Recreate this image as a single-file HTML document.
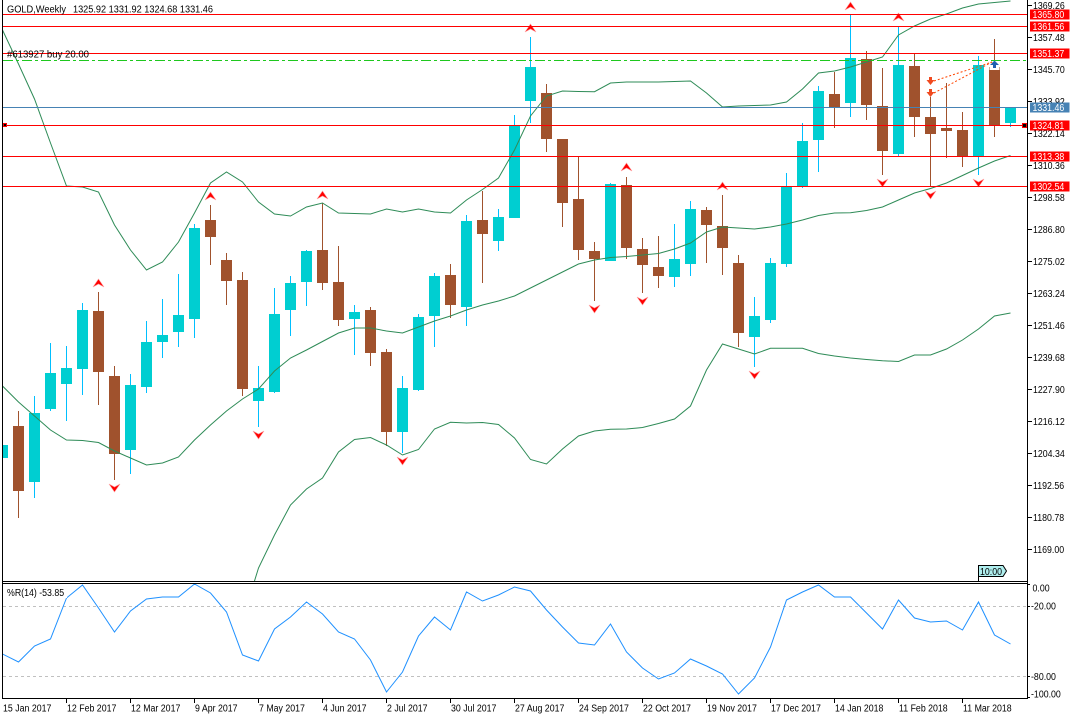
<!DOCTYPE html>
<html><head><meta charset="utf-8"><style>
html,body{margin:0;padding:0;background:#fff;}
svg{display:block;}
text{font-family:"Liberation Sans",Arial,sans-serif;font-size:10px;fill:#000;}
</style></head><body>
<svg width="1080" height="720" viewBox="0 0 1080 720" xmlns="http://www.w3.org/2000/svg">
<defs>
<clipPath id="cm"><rect x="3" y="0" width="1024" height="581"/></clipPath>
<clipPath id="ci"><rect x="3" y="584" width="1024" height="114"/></clipPath>
</defs>
<rect width="1080" height="720" fill="#fff"/>

<g clip-path="url(#cm)">
<!-- bull wicks -->
<g fill="#00BFFF">
<rect x="34" y="396" width="1" height="102"/><rect x="50" y="343" width="1" height="68"/><rect x="66" y="346" width="1" height="75"/><rect x="82" y="303" width="1" height="92"/><rect x="130" y="374" width="1" height="100"/><rect x="146" y="321" width="1" height="72"/><rect x="162" y="299" width="1" height="59"/><rect x="178" y="274" width="1" height="73"/><rect x="194" y="224" width="1" height="114"/><rect x="258" y="366" width="1" height="61"/><rect x="274" y="288" width="1" height="105"/><rect x="290" y="276" width="1" height="60"/><rect x="306" y="250" width="1" height="56"/><rect x="354" y="305" width="1" height="50"/><rect x="402" y="376" width="1" height="77"/><rect x="418" y="314" width="1" height="77"/><rect x="434" y="273" width="1" height="74"/><rect x="466" y="215" width="1" height="111"/><rect x="498" y="209" width="1" height="42"/><rect x="514" y="115" width="1" height="103"/><rect x="530" y="37" width="1" height="86"/><rect x="610" y="183" width="1" height="78"/><rect x="674" y="224" width="1" height="63"/><rect x="690" y="201" width="1" height="75"/><rect x="754" y="297" width="1" height="70"/><rect x="770" y="258" width="1" height="65"/><rect x="786" y="173" width="1" height="94"/><rect x="802" y="123" width="1" height="65"/><rect x="818" y="86" width="1" height="86"/><rect x="850" y="15" width="1" height="102"/><rect x="898" y="27" width="1" height="129"/><rect x="978" y="56" width="1" height="119"/><rect x="1010" y="107" width="1" height="20"/>
</g>
<!-- bull bodies -->
<g fill="#00CED1">
<rect x="-3" y="445" width="11" height="13"/><rect x="29" y="413" width="11" height="69"/><rect x="45" y="373" width="11" height="36"/><rect x="61" y="368" width="11" height="16"/><rect x="77" y="310" width="11" height="59"/><rect x="125" y="385" width="11" height="65"/><rect x="141" y="342" width="11" height="45"/><rect x="157" y="335" width="11" height="7"/><rect x="173" y="315" width="11" height="17"/><rect x="189" y="228" width="11" height="91"/><rect x="253" y="388" width="11" height="13"/><rect x="269" y="314" width="11" height="78"/><rect x="285" y="283" width="11" height="27"/><rect x="301" y="251" width="11" height="31"/><rect x="349" y="312" width="11" height="7"/><rect x="397" y="388" width="11" height="44"/><rect x="413" y="317" width="11" height="73"/><rect x="429" y="276" width="11" height="40"/><rect x="461" y="221" width="11" height="86"/><rect x="493" y="217" width="11" height="24"/><rect x="509" y="126" width="11" height="92"/><rect x="525" y="67" width="11" height="34"/><rect x="605" y="184" width="11" height="77"/><rect x="669" y="259" width="11" height="18"/><rect x="685" y="209" width="11" height="55"/><rect x="749" y="316" width="11" height="21"/><rect x="765" y="263" width="11" height="57"/><rect x="781" y="187" width="11" height="77"/><rect x="797" y="141" width="11" height="45"/><rect x="813" y="91" width="11" height="49"/><rect x="845" y="58" width="11" height="45"/><rect x="893" y="65" width="11" height="89"/><rect x="973" y="65" width="11" height="92"/><rect x="1005" y="107" width="11" height="16"/>
</g>
<!-- bear candles -->
<g fill="#A0522D">
<rect x="18" y="411" width="1" height="107"/><rect x="13" y="426" width="11" height="65"/>
<rect x="98" y="292" width="1" height="113"/><rect x="93" y="311" width="11" height="61"/>
<rect x="114" y="366" width="1" height="114"/><rect x="109" y="376" width="11" height="78"/>
<rect x="210" y="205" width="1" height="60"/><rect x="205" y="220" width="11" height="17"/>
<rect x="226" y="253" width="1" height="52"/><rect x="221" y="260" width="11" height="21"/>
<rect x="242" y="272" width="1" height="124"/><rect x="237" y="280" width="11" height="109"/>
<rect x="322" y="203" width="1" height="87"/><rect x="317" y="250" width="11" height="33"/>
<rect x="338" y="246" width="1" height="80"/><rect x="333" y="282" width="11" height="38"/>
<rect x="370" y="307" width="1" height="59"/><rect x="365" y="310" width="11" height="43"/>
<rect x="386" y="349" width="1" height="97"/><rect x="381" y="352" width="11" height="80"/>
<rect x="450" y="264" width="1" height="54"/><rect x="445" y="275" width="11" height="30"/>
<rect x="482" y="191" width="1" height="92"/><rect x="477" y="220" width="11" height="14"/>
<rect x="546" y="84" width="1" height="68"/><rect x="541" y="93" width="11" height="46"/>
<rect x="562" y="139" width="1" height="88"/><rect x="557" y="139" width="11" height="64"/>
<rect x="578" y="156" width="1" height="104"/><rect x="573" y="199" width="11" height="51"/>
<rect x="594" y="242" width="1" height="59"/><rect x="589" y="251" width="11" height="8"/>
<rect x="626" y="177" width="1" height="82"/><rect x="621" y="185" width="11" height="63"/>
<rect x="642" y="238" width="1" height="55"/><rect x="637" y="249" width="11" height="16"/>
<rect x="658" y="236" width="1" height="52"/><rect x="653" y="267" width="11" height="9"/>
<rect x="706" y="207" width="1" height="56"/><rect x="701" y="210" width="11" height="15"/>
<rect x="722" y="195" width="1" height="80"/><rect x="717" y="226" width="11" height="22"/>
<rect x="738" y="255" width="1" height="92"/><rect x="733" y="263" width="11" height="70"/>
<rect x="834" y="72" width="1" height="56"/><rect x="829" y="94" width="11" height="14"/>
<rect x="866" y="51" width="1" height="69"/><rect x="861" y="59" width="11" height="46"/>
<rect x="882" y="68" width="1" height="107"/><rect x="877" y="106" width="11" height="45"/>
<rect x="914" y="53" width="1" height="84"/><rect x="909" y="66" width="11" height="51"/>
<rect x="930" y="97" width="1" height="89"/><rect x="925" y="117" width="11" height="17"/>
<rect x="946" y="83" width="1" height="75"/><rect x="941" y="128" width="11" height="3"/>
<rect x="962" y="112" width="1" height="55"/><rect x="957" y="130" width="11" height="26"/>
<rect x="994" y="39" width="1" height="98"/><rect x="989" y="67" width="11" height="58"/>
</g>

<!-- Bollinger bands -->
<g fill="none" stroke="#2E8B57" stroke-width="1">
<polyline points="2.5,30 18.5,64 34.5,99 50.5,143 66.5,186 82.5,187 98.5,192 114.5,225 130.5,250 146.5,270 162.5,262 178.5,242 194.5,213 210.5,183 226.5,172 242.5,182 258.5,202 274.5,214 290.5,216 306.5,207 322.5,203 338.5,213 354.5,213.5 370.5,214 386.5,209 402.5,212 418.5,209 434.5,212 450.5,213 466.5,200 482.5,189.5 498.5,178 514.5,150 530.5,116 546.5,96 562.5,91 578.5,91.5 594.5,91.7 610.5,83 626.5,82 642.5,82 658.5,82 674.5,81.5 690.5,81 706.5,93 722.5,107 738.5,106 754.5,105.5 770.5,105 786.5,102 802.5,89 818.5,73 834.5,71 850.5,67 866.5,62 882.5,57 898.5,35 914.5,26 930.5,19 946.5,14 962.5,8 978.5,4 994.5,2.5 1010.5,1"/>
<polyline points="2.5,386 18.5,402 34.5,416 50.5,430 66.5,440 82.5,440.5 98.5,442.5 114.5,451 130.5,458 146.5,465 162.5,463 178.5,457 194.5,440 210.5,425 226.5,411 242.5,399 258.5,389 274.5,371 290.5,358 306.5,350 322.5,341.5 338.5,333 354.5,328 370.5,328 386.5,331 402.5,333 418.5,327 434.5,321 450.5,316 466.5,310 482.5,305 498.5,301 514.5,296 530.5,288 546.5,280 562.5,272 578.5,264 594.5,260 610.5,257.5 626.5,256.5 642.5,255 658.5,253.5 674.5,249 690.5,243 706.5,232 722.5,227 738.5,228 754.5,229 770.5,227 786.5,224 802.5,220 818.5,215.5 834.5,213 850.5,212.7 866.5,210.5 882.5,207 898.5,200 914.5,193 930.5,188.5 946.5,183 962.5,175.5 978.5,168 994.5,161 1010.5,155.5"/>
<polyline points="242.5,620 258.5,568 274.5,535 290.5,505 306.5,489 322.5,478 338.5,452 354.5,439.5 370.5,437.5 386.5,445 402.5,455 418.5,449.5 434.5,429 450.5,422.3 466.5,423 482.5,422.5 498.5,424.5 514.5,438 530.5,459.5 546.5,464 562.5,449 578.5,436 594.5,431 610.5,429.3 626.5,429 642.5,427.5 658.5,423.5 674.5,419 690.5,406 706.5,370 722.5,344 738.5,349 754.5,354 770.5,348.3 786.5,348.3 802.5,348.3 818.5,353.5 834.5,356 850.5,358 866.5,359.5 882.5,360.7 898.5,361.5 914.5,355 930.5,355 946.5,349 962.5,340 978.5,329 994.5,316 1010.5,313"/>
</g>

<!-- fractals -->
<g fill="#FF0000" stroke="#FF9A9A" stroke-width="0.6">
<polygon points="98.5,279 104,287 98.5,284 93,287"/>
<polygon points="210.5,192 216,200 210.5,197 205,200"/>
<polygon points="322.5,191 328,199 322.5,196 317,199"/>
<polygon points="530.5,24 536,32 530.5,29 525,32"/>
<polygon points="626.5,163 632,171 626.5,168 621,171"/>
<polygon points="722.5,182 728,190 722.5,187 717,190"/>
<polygon points="850.5,2 856,10 850.5,7 845,10"/>
<polygon points="898.5,13 904,21 898.5,18 893,21"/>
<polygon points="109,484 114.5,487 120,484 114.5,492"/>
<polygon points="253,431 258.5,434 264,431 258.5,439"/>
<polygon points="397,457 402.5,460 408,457 402.5,465"/>
<polygon points="589,305 594.5,308 600,305 594.5,313"/>
<polygon points="637,297 642.5,300 648,297 642.5,305"/>
<polygon points="749,371 754.5,374 760,371 754.5,379"/>
<polygon points="877,179 882.5,182 888,179 882.5,187"/>
<polygon points="925,191 930.5,194 936,191 930.5,199"/>
<polygon points="973,179 978.5,182 984,179 978.5,187"/>
</g>

<!-- horizontal lines -->
<g stroke-width="1" fill="none">
<line x1="3" y1="14.5" x2="1027" y2="14.5" stroke="#FF0000"/>
<line x1="3" y1="26.5" x2="1027" y2="26.5" stroke="#FF0000"/>
<line x1="3" y1="53.5" x2="1027" y2="53.5" stroke="#FF0000"/>
<line x1="3" y1="60.5" x2="1027" y2="60.5" stroke="#1EC81E" stroke-dasharray="10,3,3,3"/>
<line x1="3" y1="107.5" x2="1027" y2="107.5" stroke="#4682B4"/>
<line x1="3" y1="125.5" x2="1027" y2="125.5" stroke="#FF0000"/>
<line x1="3" y1="156.5" x2="1027" y2="156.5" stroke="#FF0000"/>
<line x1="3" y1="186.5" x2="1027" y2="186.5" stroke="#FF0000"/>
</g>

<!-- trade markers -->
<g stroke="#FF4500" stroke-width="1" stroke-dasharray="2,2" fill="none">
<line x1="934" y1="81" x2="992" y2="62"/>
<line x1="934" y1="93" x2="992" y2="62"/>
</g>
<g fill="#F04A20">
<rect x="929" y="77" width="3" height="3"/><polygon points="926.5,80 934.5,80 930.5,85"/>
<rect x="929" y="89" width="3" height="3"/><polygon points="926.5,92 934.5,92 930.5,97"/>
</g>
<rect x="989.5" y="66" width="10" height="4" fill="#fff"/>
<polygon points="994.5,60.5 999,65 996,65 996,68 993,68 993,65 990,65" fill="#1F5FB0"/>

<!-- text labels in main -->
<text x="7" y="12.5" textLength="59" lengthAdjust="spacingAndGlyphs">GOLD,Weekly</text>
<text x="73" y="12.5" textLength="140" lengthAdjust="spacingAndGlyphs">1325.92 1331.92 1324.68 1331.46</text>
<text x="7" y="57.5" textLength="82" lengthAdjust="spacingAndGlyphs">#613927 buy 20.00</text>

<!-- small squares -->
<rect x="3.5" y="123.5" width="3" height="3" fill="#000" stroke="#FF0000" stroke-width="1"/>
<rect x="1022.5" y="123.5" width="4" height="4" fill="#000" stroke="#FF0000" stroke-width="1"/>

<!-- timer -->
<line x1="978.5" y1="576" x2="978.5" y2="581" stroke="#000"/>
<polygon points="978.5,565.5 1003,565.5 1006.5,571 1003,576.5 978.5,576.5" fill="#AFEEEE" stroke="#000" stroke-width="1"/>
<text transform="translate(980,575) scale(0.88,1)">10:00</text>
</g>

<!-- indicator -->
<g clip-path="url(#ci)">
<line x1="3" y1="606.5" x2="1027" y2="606.5" stroke="#C0C0C0" stroke-dasharray="3,3"/>
<line x1="3" y1="676.5" x2="1027" y2="676.5" stroke="#C0C0C0" stroke-dasharray="3,3"/>
<polyline fill="none" stroke="#1E90FF" stroke-width="1" points="2.5,654 18.5,662 34.5,646 50.5,639 66.5,598 82.5,585 98.5,608 114.5,632 130.5,611 146.5,599 162.5,597 178.5,597 194.5,584 210.5,593 226.5,612 242.5,655 258.5,661 274.5,629 290.5,617 306.5,602 322.5,614 338.5,632 354.5,639 370.5,660 386.5,692 402.5,672 418.5,636 434.5,617 450.5,630 466.5,592 482.5,601 498.5,595 514.5,587 530.5,591 546.5,610 562.5,627 578.5,643 594.5,645 610.5,624 626.5,652 642.5,668 658.5,679 674.5,673 690.5,659 706.5,666 722.5,674 738.5,694 754.5,678 770.5,647 786.5,600 802.5,592 818.5,585 834.5,597 850.5,597 866.5,613 882.5,629 898.5,600 914.5,618 930.5,622 946.5,621 962.5,630 978.5,602 994.5,635 1010.5,644"/>
<rect x="5" y="586" width="62" height="12" fill="#fff"/>
<text transform="translate(7,596) scale(0.88,1)">%R(14) -53.85</text>
</g>

<!-- frames -->
<g stroke="#000" stroke-width="1" fill="none">
<line x1="2.5" y1="0" x2="2.5" y2="699"/>
<line x1="1027.5" y1="0" x2="1027.5" y2="699"/>
<line x1="2" y1="581.5" x2="1028" y2="581.5"/>
<line x1="2" y1="583.5" x2="1028" y2="583.5"/>
<line x1="2" y1="698.5" x2="1028" y2="698.5"/>
<path d="M1028 5.5h4M1028 37.5h4M1028 69.5h4M1028 101.5h4M1028 133.5h4M1028 165.5h4M1028 197.5h4M1028 229.5h4M1028 261.5h4M1028 293.5h4M1028 325.5h4M1028 357.5h4M1028 389.5h4M1028 421.5h4M1028 453.5h4M1028 485.5h4M1028 517.5h4M1028 549.5h4"/>
<path d="M1028 584.5h2M1028 606.5h2M1028 676.5h2M1028 697.5h2"/>
<path d="M66.5 699v4M130.5 699v4M194.5 699v4M258.5 699v4M322.5 699v4M386.5 699v4M450.5 699v4M514.5 699v4M578.5 699v4M642.5 699v4M706.5 699v4M770.5 699v4M834.5 699v4M898.5 699v4M962.5 699v4"/>
</g>

<!-- price axis labels -->
<g>
<text transform="translate(1033,9) scale(0.88,1)">1369.26</text>
<text transform="translate(1033,41) scale(0.88,1)">1357.48</text>
<text transform="translate(1033,73) scale(0.88,1)">1345.70</text>
<text transform="translate(1033,105) scale(0.88,1)">1333.92</text>
<text transform="translate(1033,137) scale(0.88,1)">1322.14</text>
<text transform="translate(1033,169) scale(0.88,1)">1310.36</text>
<text transform="translate(1033,201) scale(0.88,1)">1298.58</text>
<text transform="translate(1033,233) scale(0.88,1)">1286.80</text>
<text transform="translate(1033,265) scale(0.88,1)">1275.02</text>
<text transform="translate(1033,297) scale(0.88,1)">1263.24</text>
<text transform="translate(1033,329) scale(0.88,1)">1251.46</text>
<text transform="translate(1033,361) scale(0.88,1)">1239.68</text>
<text transform="translate(1033,393) scale(0.88,1)">1227.90</text>
<text transform="translate(1033,425) scale(0.88,1)">1216.12</text>
<text transform="translate(1033,457) scale(0.88,1)">1204.34</text>
<text transform="translate(1033,489) scale(0.88,1)">1192.56</text>
<text transform="translate(1033,521) scale(0.88,1)">1180.78</text>
<text transform="translate(1033,553) scale(0.88,1)">1169.00</text>
</g>

<!-- price boxes -->
<g>
<rect x="1030" y="9.5" width="39.5" height="10" fill="#FF0000"/>
<rect x="1030" y="21.5" width="39.5" height="10" fill="#FF0000"/>
<rect x="1030" y="48.5" width="39.5" height="10" fill="#FF0000"/>
<rect x="1030" y="102.5" width="39.5" height="10" fill="#4682B4"/>
<rect x="1030" y="120.5" width="39.5" height="10" fill="#FF0000"/>
<rect x="1030" y="151.5" width="39.5" height="10" fill="#FF0000"/>
<rect x="1030" y="181.5" width="39.5" height="10" fill="#FF0000"/>
</g>
<g>
<text transform="translate(1032.5,18) scale(0.88,1)" style="fill:#fff">1365.80</text>
<text transform="translate(1032.5,30) scale(0.88,1)" style="fill:#fff">1361.56</text>
<text transform="translate(1032.5,57) scale(0.88,1)" style="fill:#fff">1351.37</text>
<text transform="translate(1032.5,111) scale(0.88,1)" style="fill:#fff">1331.46</text>
<text transform="translate(1032.5,129) scale(0.88,1)" style="fill:#fff">1324.81</text>
<text transform="translate(1032.5,160) scale(0.88,1)" style="fill:#fff">1313.38</text>
<text transform="translate(1032.5,190) scale(0.88,1)" style="fill:#fff">1302.54</text>
</g>

<!-- indicator axis labels -->
<text transform="translate(1032.5,591.5) scale(0.88,1)">0.00</text>
<text transform="translate(1031,609.5) scale(0.88,1)">-20.00</text>
<text transform="translate(1031,680) scale(0.88,1)">-80.00</text>
<text transform="translate(1031,697.5) scale(0.88,1)">-100.00</text>

<!-- date labels -->
<g>
<text transform="translate(3,711.5) scale(0.88,1)">15 Jan 2017</text>
<text transform="translate(67,711.5) scale(0.88,1)">12 Feb 2017</text>
<text transform="translate(131,711.5) scale(0.88,1)">12 Mar 2017</text>
<text transform="translate(195,711.5) scale(0.88,1)">9 Apr 2017</text>
<text transform="translate(259,711.5) scale(0.88,1)">7 May 2017</text>
<text transform="translate(323,711.5) scale(0.88,1)">4 Jun 2017</text>
<text transform="translate(387,711.5) scale(0.88,1)">2 Jul 2017</text>
<text transform="translate(451,711.5) scale(0.88,1)">30 Jul 2017</text>
<text transform="translate(515,711.5) scale(0.88,1)">27 Aug 2017</text>
<text transform="translate(579,711.5) scale(0.88,1)">24 Sep 2017</text>
<text transform="translate(643,711.5) scale(0.88,1)">22 Oct 2017</text>
<text transform="translate(707,711.5) scale(0.88,1)">19 Nov 2017</text>
<text transform="translate(771,711.5) scale(0.88,1)">17 Dec 2017</text>
<text transform="translate(835,711.5) scale(0.88,1)">14 Jan 2018</text>
<text transform="translate(899,711.5) scale(0.88,1)">11 Feb 2018</text>
<text transform="translate(963,711.5) scale(0.88,1)">11 Mar 2018</text>
</g>
</svg>
</body></html>
